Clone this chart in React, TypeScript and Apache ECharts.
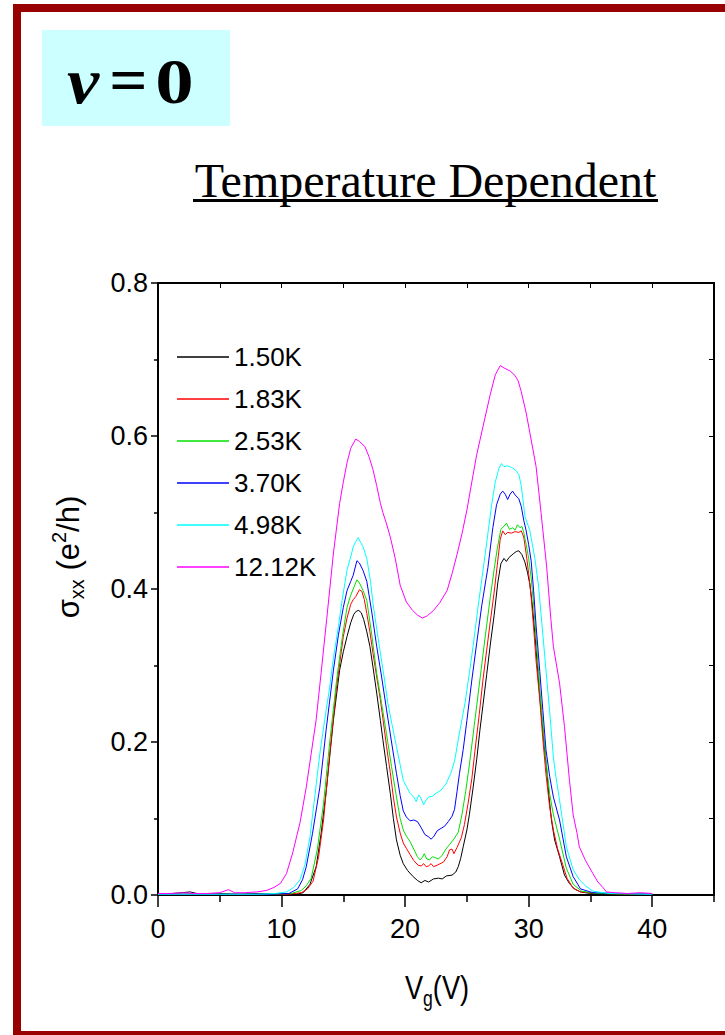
import React, { useEffect, useRef } from "react";
import * as echarts from "echarts";

type Pt = [number, number];

const legendNames = ["1.50K", "1.83K", "2.53K", "3.70K", "4.98K", "12.12K"];
const lineColors = ["#000000", "#FF0000", "#00E000", "#0000FF", "#00FFFF", "#FF00FF"];

const xLabelTicks = [0, 10, 20, 30, 40];
const xMinorTicks = [5, 15, 25, 35, 45];
const xTopTicks = [5, 10, 15, 20, 25, 30, 35, 40];
const yRightTicks = [0.1, 0.2, 0.3, 0.4, 0.5, 0.6, 0.7];

const curve150: Pt[] = [
  [0, 0.001], [1.2, 0.002], [2.6, 0.004], [3.4, 0.001], [5, 0.002], [6.5, 0.001], [8, 0.002], [10, 0.001], [11.2, 0.001],
  [11.75, 0.003], [12.3, 0.014], [12.8, 0.037], [13.2, 0.08], [13.65, 0.141], [14.2, 0.229], [14.5, 0.268], [14.7, 0.294],
  [15.0, 0.318], [15.3, 0.338], [15.6, 0.356], [15.85, 0.367], [16.05, 0.371], [16.25, 0.372], [16.45, 0.369], [16.65, 0.36],
  [16.9, 0.344], [17.15, 0.325], [17.4, 0.298], [17.7, 0.264], [18.0, 0.228], [18.2, 0.203], [18.5, 0.168], [18.8, 0.133],
  [19.05, 0.1], [19.3, 0.072], [19.6, 0.052], [19.85, 0.041], [20.2, 0.032], [20.65, 0.024], [21.0, 0.019], [21.3, 0.016],
  [21.6, 0.019], [21.9, 0.017], [22.3, 0.021], [22.7, 0.022], [23.0, 0.021], [23.35, 0.025], [23.8, 0.026], [24.1, 0.03],
  [24.3, 0.037], [24.5, 0.048], [24.7, 0.063], [25.0, 0.085], [25.2, 0.105], [25.5, 0.14], [25.8, 0.178], [26.05, 0.215],
  [26.3, 0.248], [26.6, 0.288], [26.9, 0.328], [27.2, 0.365], [27.5, 0.408], [27.75, 0.433], [28.0, 0.44], [28.2, 0.436],
  [28.4, 0.441], [28.75, 0.446], [29.0, 0.449], [29.2, 0.45], [29.45, 0.445], [29.7, 0.435], [29.9, 0.422], [30.1, 0.406],
  [30.3, 0.378], [30.5, 0.342], [30.7, 0.3], [30.9, 0.259], [31.2, 0.205], [31.45, 0.165], [31.65, 0.128], [31.85, 0.097],
  [32.1, 0.072], [32.5, 0.05], [32.9, 0.026], [33.3, 0.015], [33.7, 0.008], [34.2, 0.004], [35, 0.002], [37, 0.001], [40, 0.001],
];

const curve183: Pt[] = [
  [0, 0.001], [4, 0.001], [8, 0.001], [10.5, 0.001], [11.6, 0.003], [12.1, 0.008], [12.55, 0.018], [13.0, 0.05], [13.4, 0.098],
  [13.9, 0.185], [14.45, 0.272], [15.0, 0.338], [15.3, 0.362], [15.6, 0.38], [15.8, 0.386], [16.0, 0.39], [16.3, 0.399],
  [16.5, 0.397], [16.7, 0.386], [16.9, 0.368], [17.15, 0.344], [17.4, 0.316], [17.7, 0.285], [18.0, 0.255], [18.25, 0.225],
  [18.5, 0.194], [18.8, 0.16], [19.05, 0.128], [19.3, 0.102], [19.6, 0.081], [19.85, 0.068], [20.1, 0.061], [20.4, 0.053],
  [20.7, 0.045], [21.05, 0.039], [21.3, 0.038], [21.5, 0.041], [21.7, 0.037], [21.9, 0.038], [22.1, 0.041], [22.3, 0.037],
  [22.6, 0.039], [23.1, 0.043], [23.4, 0.05], [23.6, 0.059], [23.8, 0.06], [23.95, 0.054], [24.2, 0.062], [24.55, 0.075],
  [24.8, 0.092], [25.1, 0.12], [25.4, 0.152], [25.65, 0.188], [26.0, 0.236], [26.3, 0.281], [26.6, 0.32], [26.9, 0.358],
  [27.2, 0.395], [27.45, 0.43], [27.7, 0.465], [27.9, 0.476], [28.1, 0.471], [28.3, 0.474], [28.6, 0.473], [28.9, 0.475],
  [29.2, 0.474], [29.4, 0.476], [29.6, 0.468], [29.8, 0.446], [30.0, 0.42], [30.2, 0.39], [30.4, 0.35], [30.6, 0.306],
  [30.9, 0.255], [31.15, 0.203], [31.4, 0.158], [31.7, 0.115], [32.0, 0.085], [32.35, 0.06], [32.75, 0.04], [33.1, 0.022],
  [33.6, 0.009], [34.2, 0.004], [35.5, 0.002], [40, 0.001],
];

const curve253: Pt[] = [
  [0, 0.001], [5, 0.001], [9, 0.001], [10.8, 0.002], [11.6, 0.006], [12.0, 0.012], [12.4, 0.022], [12.9, 0.06], [13.4, 0.12],
  [13.9, 0.2], [14.45, 0.28], [14.9, 0.335], [15.3, 0.376], [15.6, 0.392], [15.8, 0.4], [16.1, 0.412], [16.3, 0.408],
  [16.6, 0.398], [16.9, 0.385], [17.3, 0.34], [17.7, 0.29], [18.1, 0.25], [18.5, 0.21], [18.9, 0.168], [19.3, 0.128],
  [19.6, 0.1], [19.85, 0.085], [20.1, 0.077], [20.4, 0.07], [20.7, 0.06], [21.0, 0.05], [21.2, 0.046], [21.4, 0.049],
  [21.55, 0.054], [21.75, 0.047], [22.0, 0.046], [22.2, 0.05], [22.4, 0.049], [22.7, 0.047], [23.0, 0.052], [23.3, 0.06],
  [23.6, 0.066], [23.9, 0.072], [24.3, 0.082], [24.6, 0.105], [24.9, 0.135], [25.2, 0.17], [25.6, 0.222], [26.05, 0.281],
  [26.5, 0.34], [26.9, 0.39], [27.2, 0.425], [27.45, 0.452], [27.75, 0.478], [28.0, 0.482], [28.2, 0.486], [28.45, 0.478],
  [28.7, 0.48], [28.9, 0.477], [29.1, 0.484], [29.3, 0.48], [29.45, 0.482], [29.6, 0.474], [29.8, 0.458], [30.0, 0.44],
  [30.2, 0.415], [30.4, 0.38], [30.65, 0.325], [30.9, 0.27], [31.2, 0.212], [31.45, 0.168], [31.7, 0.132], [32.0, 0.105],
  [32.5, 0.073], [33.05, 0.035], [33.6, 0.014], [34.3, 0.005], [35.5, 0.002], [40, 0.001],
];

const curve370: Pt[] = [
  [0, 0.001], [5, 0.001], [9, 0.001], [10.6, 0.002], [11.3, 0.008], [11.7, 0.02], [12.0, 0.037], [12.5, 0.08], [13.1, 0.141],
  [13.6, 0.215], [14.2, 0.294], [14.6, 0.34], [15.0, 0.376], [15.3, 0.398], [15.6, 0.41], [15.8, 0.418], [16.1, 0.437],
  [16.3, 0.434], [16.6, 0.424], [16.9, 0.41], [17.3, 0.37], [17.7, 0.325], [18.1, 0.285], [18.5, 0.242], [18.9, 0.2],
  [19.3, 0.159], [19.6, 0.13], [19.85, 0.11], [20.1, 0.102], [20.4, 0.097], [20.7, 0.098], [21.0, 0.096], [21.3, 0.088],
  [21.6, 0.079], [21.9, 0.076], [22.1, 0.073], [22.3, 0.076], [22.6, 0.084], [22.9, 0.087], [23.2, 0.09], [23.5, 0.096],
  [23.8, 0.103], [24.0, 0.112], [24.2, 0.135], [24.4, 0.159], [24.7, 0.19], [25.0, 0.228], [25.4, 0.281], [25.8, 0.33],
  [26.2, 0.378], [26.7, 0.428], [27.1, 0.48], [27.4, 0.51], [27.7, 0.524], [27.9, 0.528], [28.1, 0.524], [28.3, 0.517],
  [28.5, 0.524], [28.7, 0.528], [28.9, 0.523], [29.2, 0.518], [29.4, 0.508], [29.6, 0.49], [29.8, 0.476], [30.0, 0.458],
  [30.2, 0.437], [30.4, 0.398], [30.6, 0.352], [30.9, 0.292], [31.15, 0.241], [31.4, 0.19], [31.7, 0.155], [32.0, 0.128],
  [32.5, 0.098], [33.05, 0.05], [33.6, 0.024], [34.2, 0.008], [35.2, 0.003], [40, 0.001],
];

const curve498: Pt[] = [
  [0, 0.001], [5, 0.001], [8, 0.001], [9.5, 0.002], [10.4, 0.004], [11.0, 0.01], [11.5, 0.02], [11.9, 0.04], [12.3, 0.076],
  [12.7, 0.13], [13.1, 0.185], [13.5, 0.23], [13.9, 0.272], [14.2, 0.31], [14.6, 0.351], [14.9, 0.385], [15.3, 0.425],
  [15.6, 0.442], [15.8, 0.455], [16.0, 0.462], [16.2, 0.467], [16.4, 0.461], [16.6, 0.455], [16.9, 0.44], [17.2, 0.41],
  [17.4, 0.381], [17.7, 0.348], [18.0, 0.316], [18.3, 0.285], [18.6, 0.251], [18.95, 0.222], [19.3, 0.194], [19.6, 0.17],
  [19.85, 0.15], [20.1, 0.142], [20.4, 0.133], [20.7, 0.128], [20.9, 0.122], [21.1, 0.131], [21.3, 0.126], [21.5, 0.118],
  [21.7, 0.124], [21.9, 0.128], [22.2, 0.129], [22.5, 0.133], [22.9, 0.137], [23.3, 0.145], [23.7, 0.159], [24.0, 0.175],
  [24.4, 0.212], [24.85, 0.251], [25.2, 0.29], [25.5, 0.325], [25.85, 0.37], [26.2, 0.412], [26.6, 0.46], [27.0, 0.51],
  [27.3, 0.54], [27.6, 0.558], [27.8, 0.564], [28.0, 0.56], [28.3, 0.561], [28.6, 0.559], [28.9, 0.556], [29.2, 0.55],
  [29.4, 0.535], [29.7, 0.495], [30.1, 0.476], [30.5, 0.44], [30.8, 0.404], [31.15, 0.34], [31.45, 0.285], [31.7, 0.24],
  [32.0, 0.18], [32.2, 0.155], [32.5, 0.124], [33.05, 0.063], [33.6, 0.033], [34.1, 0.02], [34.6, 0.012], [35.2, 0.005],
  [36.5, 0.002], [40, 0.001],
];

const curve1212: Pt[] = [
  [0, 0.002], [1, 0.002], [2, 0.003], [3, 0.002], [4, 0.002], [5, 0.003], [5.7, 0.007], [6.2, 0.003], [7, 0.003], [8, 0.004],
  [8.8, 0.006], [9.4, 0.01], [9.9, 0.015], [10.4, 0.028], [10.9, 0.055], [11.5, 0.095], [12.0, 0.141], [12.4, 0.185],
  [12.8, 0.229], [13.2, 0.29], [13.65, 0.36], [14.2, 0.447], [14.7, 0.512], [15.0, 0.54], [15.3, 0.565], [15.6, 0.584],
  [16.0, 0.596], [16.3, 0.593], [16.75, 0.586], [17.1, 0.572], [17.4, 0.556], [17.7, 0.535], [18.0, 0.512], [18.2, 0.5],
  [18.5, 0.485], [18.8, 0.468], [19.2, 0.44], [19.6, 0.405], [20.1, 0.383], [20.6, 0.372], [21.0, 0.366], [21.4, 0.362],
  [21.8, 0.365], [22.3, 0.372], [22.8, 0.382], [23.4, 0.398], [23.8, 0.42], [24.2, 0.445], [24.6, 0.472], [25.0, 0.503],
  [25.4, 0.54], [25.8, 0.576], [26.3, 0.612], [26.9, 0.655], [27.3, 0.68], [27.7, 0.692], [28.0, 0.689], [28.5, 0.685],
  [28.9, 0.679], [29.15, 0.672], [29.4, 0.658], [29.8, 0.63], [30.1, 0.604], [30.6, 0.56], [31.0, 0.5], [31.45, 0.43],
  [31.8, 0.36], [32.0, 0.325], [32.5, 0.277], [32.9, 0.22], [33.3, 0.15], [33.6, 0.105], [33.9, 0.082], [34.1, 0.063],
  [34.6, 0.045], [35.2, 0.028], [35.6, 0.017], [36.0, 0.01], [36.3, 0.004], [37, 0.003], [38, 0.002], [39, 0.003], [40, 0.002],
];

const curves: Pt[][] = [curve150, curve183, curve253, curve370, curve498, curve1212];

const SANS = "'Liberation Sans', Arial, sans-serif";
const SERIF = "'Liberation Serif', 'Times New Roman', serif";

export default function App() {
  const ref = useRef<HTMLDivElement>(null);

  useEffect(() => {
    if (!ref.current) return;
    const chart = echarts.init(ref.current, null, { renderer: "svg" });

    const axisLineStyle = { color: "#000", width: 2 };
    const tickStyle = { color: "#000", width: 1.5 };

    const option: any = {
      animation: false,
      backgroundColor: "#ffffff",
      textStyle: { fontFamily: SANS },
      grid: { left: 158, top: 283, width: 556, height: 612, containLabel: false },
      legend: {
        data: legendNames.map((n) => ({ name: n, icon: "rect" })),
        orient: "vertical",
        left: 172,
        top: 337,
        itemWidth: 52,
        itemHeight: 1.6,
        itemGap: 12,
        selectedMode: false,
        textStyle: { fontSize: 26, fontFamily: SANS, color: "#000", lineHeight: 30 },
      },
      xAxis: [
        {
          type: "value",
          gridIndex: 0,
          position: "bottom",
          min: 0,
          max: 45,
          axisLine: { show: true, onZero: false, lineStyle: axisLineStyle },
          axisTick: { show: true, customValues: xLabelTicks, length: 12, inside: false, lineStyle: tickStyle },
          axisLabel: { show: true, customValues: xLabelTicks, fontSize: 27, fontFamily: SANS, color: "#000", margin: 20 },
          splitLine: { show: false },
        },
        {
          type: "value",
          gridIndex: 0,
          position: "bottom",
          min: 0,
          max: 45,
          axisLine: { show: false, onZero: false },
          axisTick: { show: true, customValues: xMinorTicks, length: 7, inside: false, lineStyle: tickStyle },
          axisLabel: { show: false },
          splitLine: { show: false },
        },
        {
          type: "value",
          gridIndex: 0,
          position: "top",
          min: 0,
          max: 45,
          axisLine: { show: true, onZero: false, lineStyle: axisLineStyle },
          axisTick: { show: true, customValues: xTopTicks, length: 5, inside: true, lineStyle: { color: "#000", width: 1 } },
          axisLabel: { show: false },
          splitLine: { show: false },
        },
      ],
      yAxis: [
        {
          type: "value",
          gridIndex: 0,
          position: "left",
          min: 0,
          max: 0.8,
          interval: 0.2,
          axisLine: { show: true, onZero: false, lineStyle: axisLineStyle },
          axisTick: { show: true, length: 7, inside: false, lineStyle: tickStyle },
          minorTick: { show: true, splitNumber: 2, length: 4, lineStyle: { color: "#000", width: 1.5 } },
          axisLabel: {
            show: true,
            fontSize: 27,
            fontFamily: SANS,
            color: "#000",
            margin: 10,
            formatter: (v: number) => v.toFixed(1),
          },
          splitLine: { show: false },
          minorSplitLine: { show: false },
        },
        {
          type: "value",
          gridIndex: 0,
          position: "right",
          min: 0,
          max: 0.8,
          axisLine: { show: true, onZero: false, lineStyle: axisLineStyle },
          axisTick: { show: true, customValues: yRightTicks, length: 5, inside: true, lineStyle: { color: "#000", width: 1 } },
          axisLabel: { show: false },
          splitLine: { show: false },
        },
      ],
      series: curves.map((data, i) => ({
        name: legendNames[i],
        type: "line",
        xAxisIndex: 0,
        yAxisIndex: 0,
        data,
        symbol: "none",
        showSymbol: false,
        smooth: false,
        lineStyle: { color: lineColors[i], width: 1 },
        itemStyle: { color: lineColors[i] },
        z: 2 + i,
      })),
      graphic: {
        elements: [
          {
            type: "rect",
            shape: { x: 42, y: 30, width: 188, height: 96 },
            style: { fill: "#CCFFFF" },
            z: 1,
          },
          {
            type: "text",
            x: 83,
            y: 81,
            scaleX: 1.1,
            style: {
              text: "ν",
              fontSize: 66,
              fontFamily: SERIF,
              fontWeight: "bold",
              fontStyle: "italic",
              fill: "#000",
              align: "center",
              textAlign: "center",
              verticalAlign: "middle",
              textVerticalAlign: "middle",
            },
            z: 2,
          },
          {
            type: "text",
            x: 128.5,
            y: 81,
            scaleX: 1.05,
            style: {
              text: "=",
              fontSize: 64,
              fontFamily: SERIF,
              fontWeight: "bold",
              fill: "#000",
              align: "center",
              textAlign: "center",
              verticalAlign: "middle",
              textVerticalAlign: "middle",
            },
            z: 2,
          },
          {
            type: "text",
            x: 174.5,
            y: 81,
            scaleX: 1.2,
            style: {
              text: "0",
              fontSize: 64,
              fontFamily: SERIF,
              fontWeight: "bold",
              fill: "#000",
              align: "center",
              textAlign: "center",
              verticalAlign: "middle",
              textVerticalAlign: "middle",
            },
            z: 2,
          },
          {
            type: "text",
            x: 425.5,
            y: 180,
            style: {
              text: "Temperature Dependent",
              fontSize: 48,
              fontFamily: SERIF,
              fill: "#000",
              align: "center",
              textAlign: "center",
              verticalAlign: "middle",
              textVerticalAlign: "middle",
            },
            z: 2,
          },
          {
            type: "line",
            shape: { x1: 193, y1: 200.5, x2: 658, y2: 200.5 },
            style: { stroke: "#000", lineWidth: 3 },
            z: 2,
          },
          {
            type: "text",
            x: 68,
            y: 557,
            rotation: Math.PI / 2,
            style: {
              text: "{a|σ}{s|xx}{a| (e}{p|2}{a|/h)}",
              fill: "#000",
              align: "center",
              textAlign: "center",
              verticalAlign: "middle",
              textVerticalAlign: "middle",
              rich: {
                a: { fontSize: 31, fontFamily: SANS, fill: "#000", lineHeight: 38 },
                s: { fontSize: 20, fontFamily: SANS, fill: "#000", lineHeight: 20, verticalAlign: "bottom" },
                p: { fontSize: 20, fontFamily: SANS, fill: "#000", lineHeight: 20, verticalAlign: "top" },
              },
            },
            z: 2,
          },
          {
            type: "text",
            x: 437,
            y: 987,
            scaleX: 0.8,
            style: {
              text: "{a|V}{s|g}{a|(V)}",
              fill: "#000",
              align: "center",
              textAlign: "center",
              verticalAlign: "middle",
              textVerticalAlign: "middle",
              rich: {
                a: { fontSize: 34, fontFamily: SANS, fill: "#000", lineHeight: 44 },
                s: { fontSize: 22, fontFamily: SANS, fill: "#000", lineHeight: 22, verticalAlign: "bottom" },
              },
            },
            z: 2,
          },
          {
            type: "rect",
            shape: { x: 17, y: 8, width: 780, height: 1027 },
            style: { fill: "none", stroke: "#990000", lineWidth: 8 },
            z: 10,
          },
        ],
      },
    };

    chart.setOption(option);
    return () => chart.dispose();
  }, []);

  return (
    <div
      ref={ref}
      style={{ position: "absolute", left: 0, top: 0, width: 725, height: 1035 }}
    />
  );
}
